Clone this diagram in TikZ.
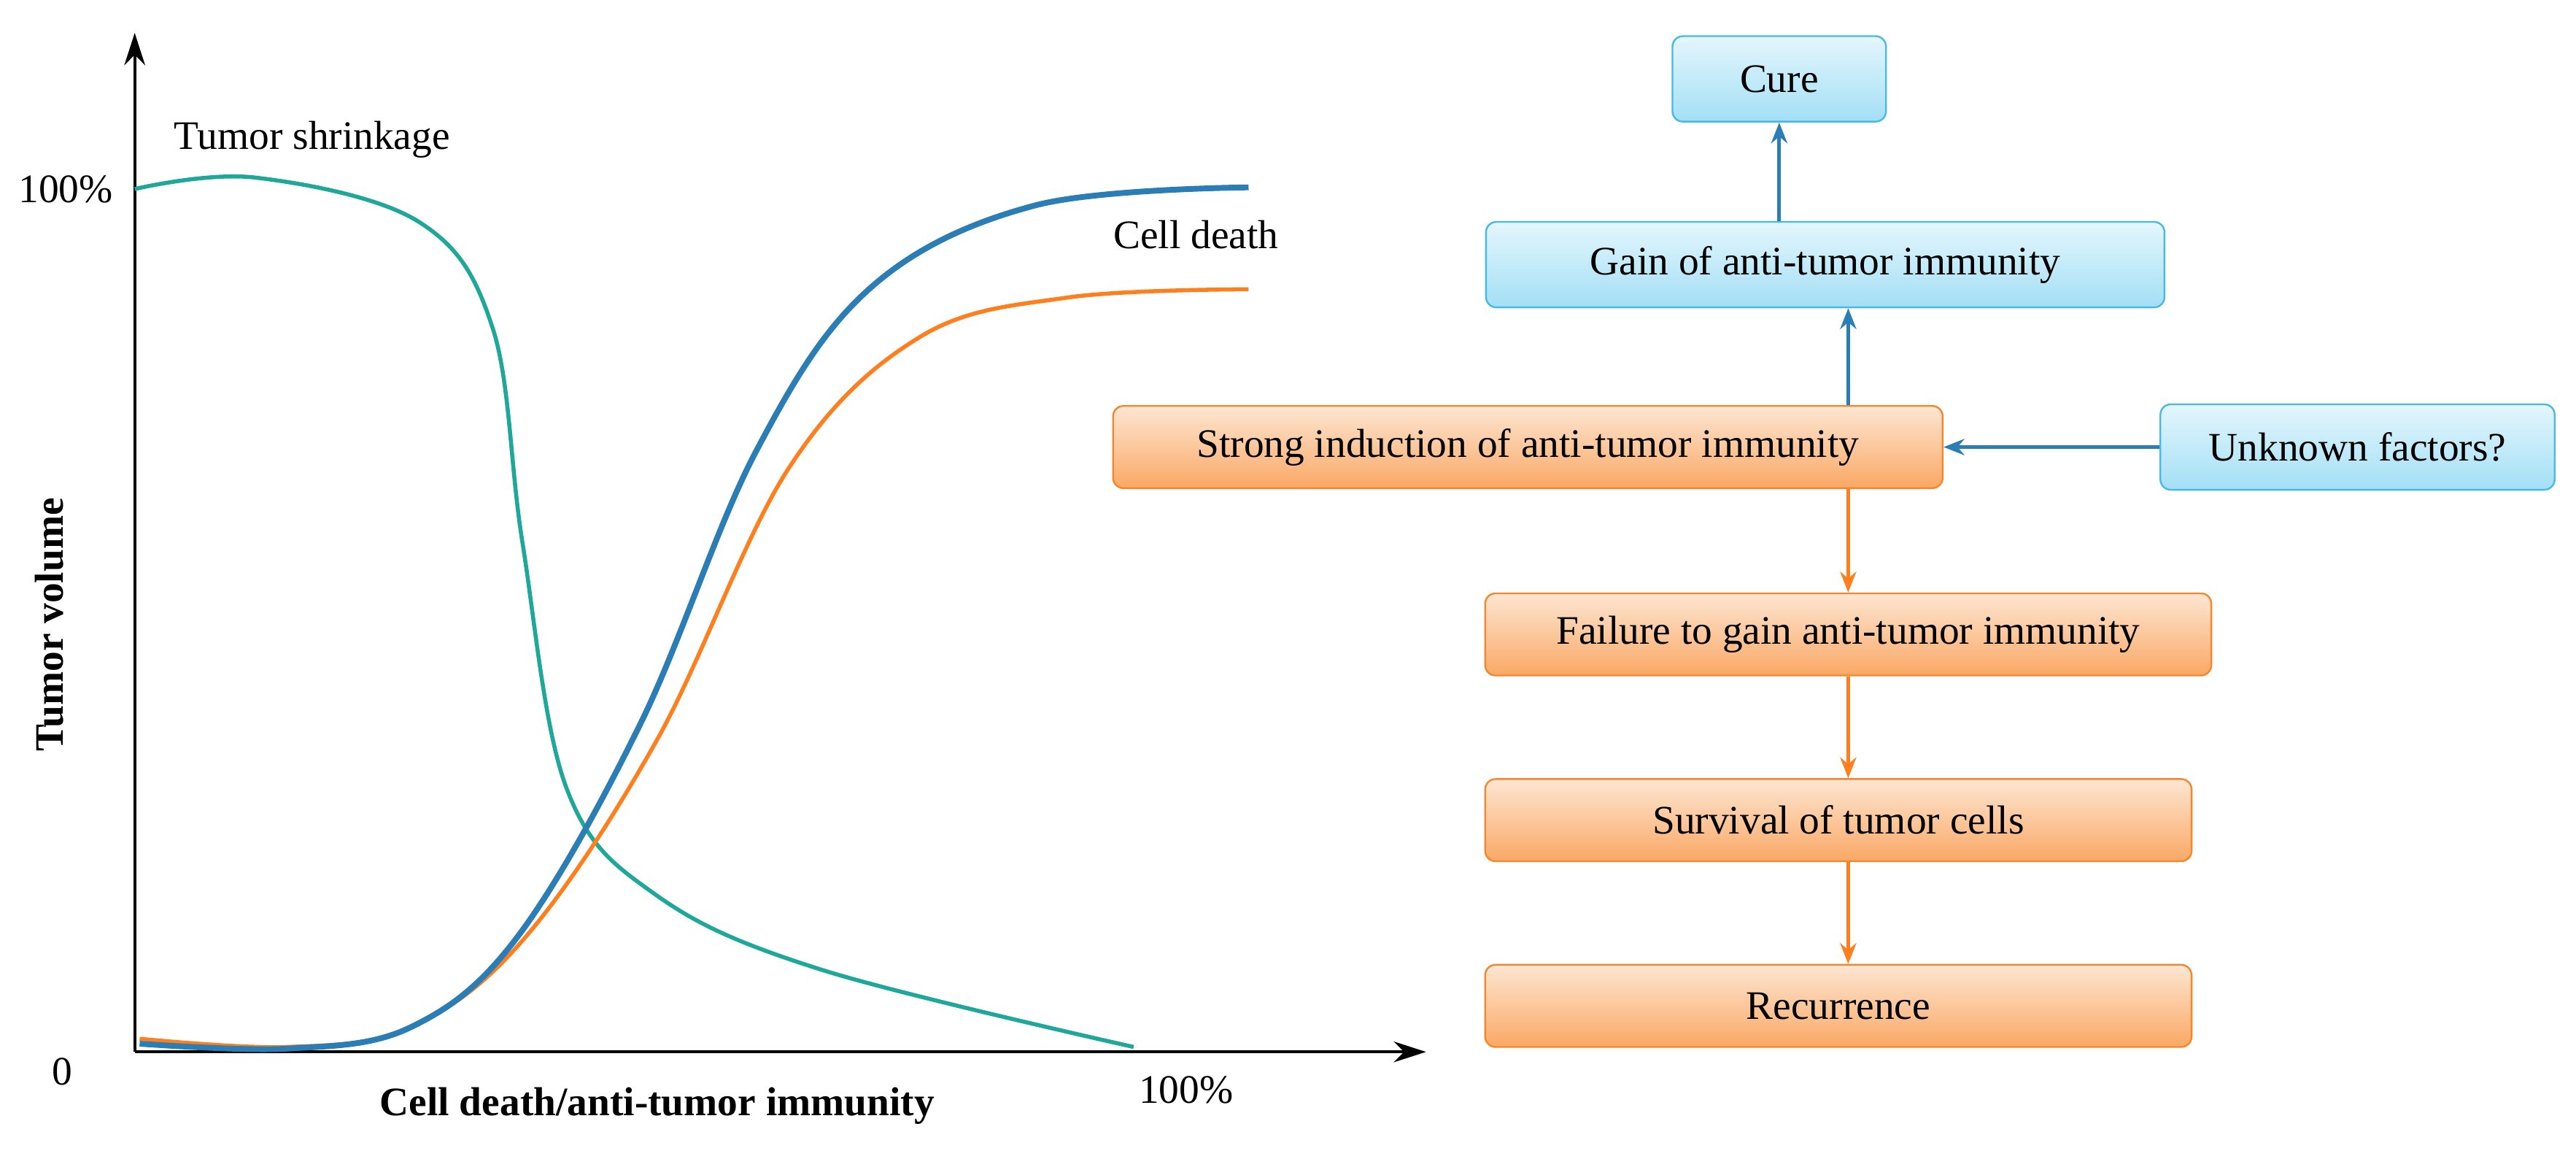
\documentclass[tikz,border=0pt]{standalone}
\usepackage{fontspec}
\setmainfont{Liberation Serif}
\usetikzlibrary{arrows.meta}
\definecolor{lblue}{HTML}{2A7DB5}
\definecolor{lorange}{HTML}{FF7F1E}
\definecolor{lteal}{HTML}{1FA89A}
\definecolor{bblue}{HTML}{45B9E8}
\definecolor{borange}{HTML}{F5862E}
\definecolor{btop}{HTML}{E4F6FD}
\definecolor{bbot}{HTML}{A3DFF5}
\definecolor{otop}{HTML}{FDE6D2}
\definecolor{obot}{HTML}{FAA865}
\begin{document}
\begin{tikzpicture}[x=0.05cm,y=-0.05cm,
  txt/.style={font=\fontsize{35}{40}\selectfont},
  bbox/.style={draw=bblue,line width=1.5pt,rounded corners=9pt,top color=btop,bottom color=bbot,minimum height=52*0.05cm,txt,inner sep=0pt},
  obox/.style={draw=borange,line width=1.5pt,rounded corners=9pt,top color=otop,bottom color=obot,minimum height=50*0.05cm,txt,inner sep=0pt},
  barr/.style={draw=lblue,line width=3pt,-{Stealth[length=18pt,width=14pt]}},
  oarr/.style={draw=lorange,line width=3pt,-{Stealth[length=18pt,width=14pt]}}]
\useasboundingbox (0,0) rectangle (1568,705);
% axes
\coordinate (o) at (82,640);
\coordinate (yt) at (82,20);
\coordinate (xt) at (868,640);
\draw[line width=2.5pt,-{Stealth[length=28pt,width=18pt]}] (o) -- (yt);
\draw[line width=2.5pt,-{Stealth[length=28pt,width=18pt]}] (o) -- (xt);
\node[txt] (p100) at (40,115) {100\%};
\node[txt] (zero) at (38,652) {0};
\node[txt] (x100) at (722,663) {100\%};
\node[txt] (ts) at (190,85) {Tumor shrinkage};
\node[txt] (cd) at (728,143) {Cell death};
\node[txt,font=\fontsize{35}{40}\selectfont\bfseries,rotate=90] (tv) at (30,380) {Tumor volume};
\node[txt,font=\fontsize{35}{40}\selectfont\bfseries] (xl) at (400,673) {Cell death/anti-tumor immunity};
% curves
\draw[lteal,line width=3.5pt] plot[smooth,tension=0.6] coordinates {(82,115) (155,108) (255,135) (300,200) (318,330) (345,480) (400,545) (500,590) (690,637)};
\draw[lorange,line width=3.5pt] plot[smooth,tension=0.6] coordinates {(85,632) (175,637) (250,625) (320,570) (400,450) (480,285) (560,205) (650,181) (760,176)};
\draw[lblue,line width=5pt] plot[smooth,tension=0.6] coordinates {(85,635) (175,638) (250,625) (315,570) (390,440) (460,275) (530,175) (630,125) (760,114)};
% boxes
\node[bbox,minimum width=130*0.05cm] (cure) at (1083,48) {Cure};
\node[bbox,minimum width=413*0.05cm] (gain) at (1111,161) {Gain of anti-tumor immunity};
\node[obox,minimum width=505*0.05cm] (strong) at (930,272) {Strong induction of anti-tumor immunity};
\node[bbox,minimum width=240*0.05cm] (unk) at (1435,272) {Unknown factors?};
\node[obox,minimum width=442*0.05cm] (fail) at (1125,386) {Failure to gain anti-tumor immunity};
\node[obox,minimum width=430*0.05cm] (surv) at (1119,499) {Survival of tumor cells};
\node[obox,minimum width=430*0.05cm] (rec) at (1119,612) {Recurrence};
% arrows
\draw[barr] (strong.north -| 1125,0) -- (gain.south -| 1125,0);
\draw[barr] (gain.north -| cure) -- (cure.south);
\draw[barr] (unk.west) -- (strong.east);
\draw[oarr] (strong.south -| 1125,0) -- (fail.north -| 1125,0);
\draw[oarr] (fail.south -| 1125,0) -- (surv.north -| 1125,0);
\draw[oarr] (surv.south -| 1125,0) -- (rec.north -| 1125,0);
\end{tikzpicture}
\end{document}
